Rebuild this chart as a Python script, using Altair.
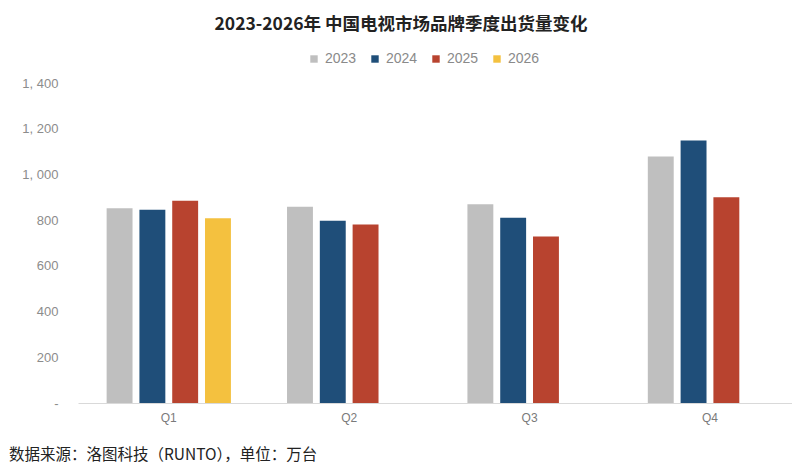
import altair as alt
import pandas as pd

quarters = ["Q1", "Q1", "Q1", "Q1", "Q2", "Q2", "Q2", "Q3", "Q3", "Q3", "Q4", "Q4", "Q4"]
years = ["2023", "2024", "2025", "2026", "2023", "2024", "2025", "2023", "2024", "2025", "2023", "2024", "2025"]
values = [852, 845, 885, 808, 859, 797, 781, 869, 811, 728, 1078, 1148, 900]

year_domain = ["2023", "2024", "2025", "2026"]
year_colors = ["#BFBFBF", "#1F4E79", "#B8432F", "#F4C13F"]
quarter_domain = ["Q1", "Q2", "Q3", "Q4"]

title_text = "2023-2026年 中国电视市场品牌季度出货量变化"
footer_text = "数据来源：洛图科技（RUNTO），单位：万台"

df = pd.DataFrame({"quarter": quarters, "year": years, "value": values})
foot_df = pd.DataFrame({"t": [footer_text]})

PLOT_H = 320

bars = alt.Chart(df).mark_bar().encode(
    x=alt.X("quarter:N", sort=quarter_domain,
            scale=alt.Scale(domain=quarter_domain, paddingInner=0.311, paddingOuter=0.1345, align=0.59),
            axis=alt.Axis(title=None, labelAngle=0, ticks=False, domainColor="#d9d9d9",
                          domainWidth=1, labelColor="#7a7a7a", labelFontSize=12,
                          labelPadding=9, labelFont="Liberation Sans")),
    xOffset=alt.XOffset("year:N", scale=alt.Scale(domain=year_domain, paddingInner=0.21, paddingOuter=0)),
    y=alt.Y("value:Q", scale=alt.Scale(domain=[0, 1400], nice=False),
            axis=alt.Axis(title=None, values=[0, 200, 400, 600, 800, 1000, 1200, 1400],
                          grid=False, domain=False, ticks=False, labelPadding=20,
                          labelColor="#8c8c8c", labelFontSize=13, labelFont="Liberation Sans",
                          labelExpr="datum.value == 0 ? '-' : replace(format(datum.value, ','), ',', ', ')")),
    color=alt.Color("year:N", scale=alt.Scale(domain=year_domain, range=year_colors),
                    legend=alt.Legend(title=None, orient="none", direction="horizontal",
                                      legendX=229, legendY=-31, symbolType="square",
                                      symbolSize=55, symbolStrokeWidth=0, labelFontSize=14,
                                      labelColor="#8a8a8a", labelFont="Liberation Sans",
                                      labelOffset=4, columnPadding=11)),
)

footer = alt.Chart(foot_df).mark_text(
    align="left", baseline="middle", fontSize=15.5, color="#222222", font="Noto Sans CJK SC"
).encode(
    text="t:N",
    x=alt.value(-69),
    y=alt.value(PLOT_H + 52),
)

chart = alt.layer(bars, footer).properties(
    width=714,
    height=PLOT_H,
    autosize=alt.AutoSizeParams(type="none"),
    padding={"left": 70, "top": 75, "right": 0, "bottom": 62},
    title=alt.TitleParams(title_text, anchor="middle", dx=-34, offset=19, fontSize=17.5,
                          fontWeight="bold", font="Noto Sans CJK SC", color="#222222"),
).configure_view(stroke=None)

chart.save("out.html", embed_options={"renderer": "svg", "actions": False})
